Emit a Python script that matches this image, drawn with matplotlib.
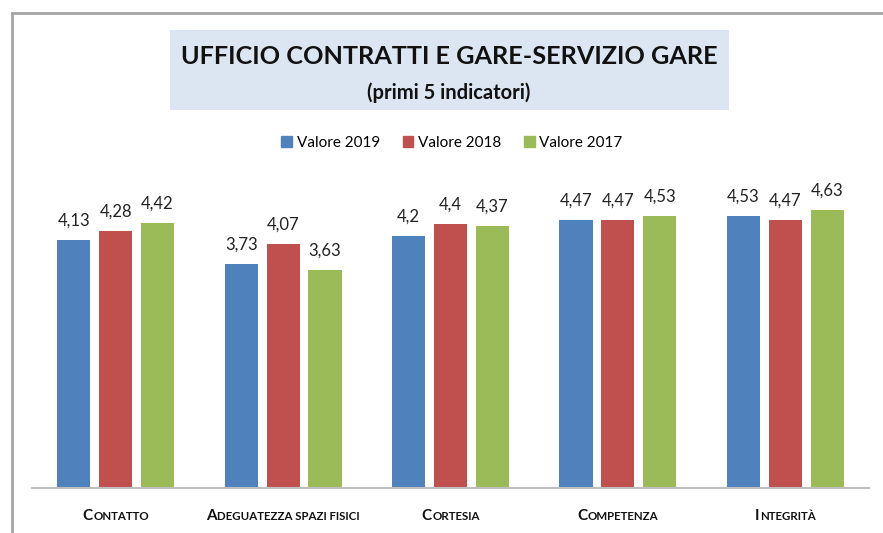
import matplotlib
matplotlib.use("Agg")
import matplotlib.pyplot as plt
import numpy as np
from matplotlib.offsetbox import TextArea, HPacker, AnnotationBbox
from matplotlib.patches import Rectangle
from matplotlib.lines import Line2D

categories = ["Contatto", "Adeguatezza spazi fisici", "Cortesia", "Competenza", "Integrità"]
series_names = ["Valore 2019", "Valore 2018", "Valore 2017"]
v2019 = [4.13, 3.73, 4.20, 4.47, 4.53]
v2018 = [4.28, 4.07, 4.40, 4.47, 4.47]
v2017 = [4.42, 3.63, 4.37, 4.53, 4.63]
label2019 = ["4,13", "3,73", "4,2", "4,47", "4,53"]
label2018 = ["4,28", "4,07", "4,4", "4,47", "4,47"]
label2017 = ["4,42", "3,63", "4,37", "4,53", "4,63"]
colors = ["#4F81BD", "#C0504D", "#9BBB59"]

FONT = "Lato"
W, H = 883, 533
fig = plt.figure(figsize=(W / 100, H / 100), dpi=100)

# outer border lines (left and top)
fig.add_artist(Line2D([11.5 / W, 11.5 / W], [0, 1 - 12.5 / H], transform=fig.transFigure,
                      color="#A6A6A6", lw=2))
fig.add_artist(Line2D([11.5 / W, 1], [1 - 12.5 / H, 1 - 12.5 / H], transform=fig.transFigure,
                      color="#A6A6A6", lw=2))

# title box
bx0, by0, bx1, by1 = 170, 30, 729, 110
fig.add_artist(Rectangle((bx0 / W, 1 - by1 / H), (bx1 - bx0) / W, (by1 - by0) / H,
                         transform=fig.transFigure, facecolor="#DCE6F2", edgecolor="none"))
fig.text(449 / W, 1 - 56 / H, "UFFICIO CONTRATTI E GARE-SERVIZIO GARE", ha="center", va="center",
         fontsize=18.2, fontweight="bold", family=FONT, color="#111111")
fig.text(449 / W, 1 - 93 / H, "(primi 5 indicatori)", ha="center", va="center",
         fontsize=14.5, fontweight="bold", family=FONT, color="#111111")

ax_left, ax_right, ax_bottom_px, ax_top_px = 32, 869, 488, 188
ax = fig.add_axes([ax_left / W, 1 - ax_bottom_px / H, (ax_right - ax_left) / W,
                   (ax_bottom_px - ax_top_px) / H])
x = np.arange(len(categories))
width = 0.198
offsets = [-0.25, 0.0, 0.25]
all_vals = [v2019, v2018, v2017]
all_labels = [label2019, label2018, label2017]
for vals, labs, off, c, name in zip(all_vals, all_labels, offsets, colors, series_names):
    bars = ax.bar(x + off, vals, width, color=c, label=name, zorder=2)
    for b, lab in zip(bars, labs):
        ax.annotate(lab, (b.get_x() + b.get_width() / 2, b.get_height()),
                    xytext=(0, 8), textcoords="offset points", ha="center", va="bottom",
                    fontsize=12, family=FONT, color="#222222")

ax.set_xlim(-0.5, len(categories) - 0.5)
ax.set_ylim(0, 5)
for s in ["top", "right", "left"]:
    ax.spines[s].set_visible(False)
ax.spines["bottom"].set_color("#BFBFBF")
ax.spines["bottom"].set_linewidth(1.5)
ax.set_yticks([])
ax.set_xticks([])

# small caps category labels
for xi, cat in zip(x, categories):
    first = cat[0].upper()
    rest = cat[1:].upper()
    ta1 = TextArea(first, textprops=dict(fontsize=11, fontweight="bold", family=FONT, color="#111111"))
    ta2 = TextArea(rest, textprops=dict(fontsize=8.3, fontweight="bold", family=FONT, color="#111111"))
    pack = HPacker(children=[ta1, ta2], align="baseline", pad=0, sep=0.5)
    ab = AnnotationBbox(pack, (xi, 0), xybox=(0, -20), xycoords="data", boxcoords="offset points",
                        frameon=False, box_alignment=(0.5, 0.5), annotation_clip=False)
    ax.add_artist(ab)

# legend
handles = [Rectangle((0, 0), 1, 1, color=c) for c in colors]
fig.legend(handles, series_names, loc="center", bbox_to_anchor=(452 / W, 1 - 143 / H), ncol=3,
           frameon=False, prop={"family": FONT, "size": 11}, handlelength=0.7, handleheight=0.7,
           handletextpad=0.3, columnspacing=1.5)

fig.savefig("out.png", dpi=100)
